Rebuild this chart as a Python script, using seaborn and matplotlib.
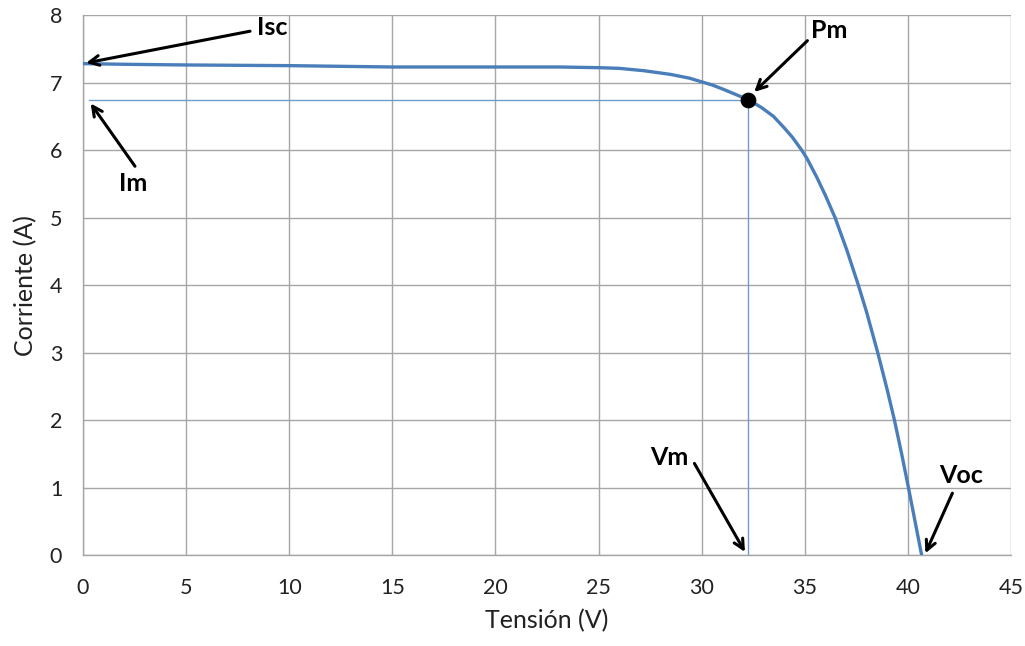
import matplotlib
matplotlib.use("Agg")
import matplotlib.pyplot as plt
import seaborn as sns
import pandas as pd

# I-V curve of the PV module (voltage in V, current in A)
tension = [0.0, 2.0, 5.0, 10.0, 15.0, 20.0, 23.1, 25.0, 26.0, 27.2, 28.5, 29.4,
           30.0, 30.5, 31.05, 31.6, 32.26, 32.9, 33.48, 34.0, 34.4, 34.85, 35.1,
           35.58, 36.0, 36.47, 37.04, 37.6, 38.0, 38.54, 39.0, 39.35, 39.7, 40.03,
           40.35, 40.67]
corriente = [7.28, 7.27, 7.26, 7.25, 7.23, 7.23, 7.23, 7.22, 7.21, 7.175, 7.12, 7.065,
             7.01, 6.965, 6.90, 6.83, 6.745, 6.63, 6.50, 6.33, 6.19, 6.0, 5.88,
             5.60, 5.33, 5.0, 4.52, 4.0, 3.6, 3.0, 2.45, 2.0, 1.5, 1.0,
             0.5, 0.0]

# Maximum power point
vm = 32.26
im = 6.745

x_ticks = [0, 5, 10, 15, 20, 25, 30, 35, 40, 45]
y_ticks = [0, 1, 2, 3, 4, 5, 6, 7, 8]

# Annotation labels: (text, text position, arrow tail, arrow head)
labels = ["Isc", "Im", "Pm", "Vm", "Voc"]
label_xy = [(8.45, 7.81), (2.42, 5.5), (36.2, 7.77), (28.42, 1.45), (42.6, 1.18)]
tail_xy = [(8.1, 7.76), (2.52, 5.76), (35.13, 7.62), (29.65, 1.36), (42.16, 0.92)]
head_xy = [(0.15, 7.29), (0.37, 6.69), (32.55, 6.86), (32.1, 0.05), (40.85, 0.03)]
label_ha = ["left", "center", "center", "center", "center"]

sns.set_style("white")
plt.rcParams["font.family"] = ["Lato", "DejaVu Sans"]

df = pd.DataFrame({"Tensión (V)": tension, "Corriente (A)": corriente})

fig = plt.figure(figsize=(10.25, 6.46), dpi=100)
ax = fig.add_axes([0.081, 0.1404, 0.9053, 0.8364])

grid_c = "#a6a6a6"
ax.set_xlim(0, 45)
ax.set_ylim(0, 8)
ax.set_xticks(x_ticks)
ax.set_yticks(y_ticks)
ax.grid(True, color=grid_c, linewidth=1.0)
ax.set_axisbelow(True)
for s in ["top", "right"]:
    ax.spines[s].set_visible(False)
for s in ["left", "bottom"]:
    ax.spines[s].set_color(grid_c)
    ax.spines[s].set_linewidth(1.0)
ax.tick_params(axis="both", which="both", direction="out", length=6, width=1.0,
               color=grid_c, labelsize=15.5, labelcolor="#222222")
ax.tick_params(axis="y", pad=9)
ax.tick_params(axis="x", pad=10)

# Reference lines to the maximum power point
ax.plot([0.3, vm], [im, im], color="#6f9bd2", linewidth=1.0, zorder=2)
ax.plot([vm, vm], [0, im], color="#6f9bd2", linewidth=1.0, zorder=2)

sns.lineplot(data=df, x="Tensión (V)", y="Corriente (A)", ax=ax, color="#4a7ebb",
             linewidth=2.4, sort=False, zorder=3)
sns.scatterplot(x=[vm], y=[im], ax=ax, color="black", s=110, edgecolor="black",
                zorder=4)

for txt, txy, t0, h0, ha in zip(labels, label_xy, tail_xy, head_xy, label_ha):
    ax.text(txy[0], txy[1], txt, fontsize=18, fontweight="bold", ha=ha,
            va="center", color="black", zorder=6)
    ax.annotate("", xy=h0, xytext=t0,
                arrowprops=dict(arrowstyle="->,head_length=0.7,head_width=0.35",
                                color="black", linewidth=2.2, shrinkA=0, shrinkB=0),
                zorder=5)

ax.set_xlabel("Tensión (V)", fontsize=18, color="#222222", labelpad=8)
ax.set_ylabel("Corriente (A)", fontsize=18, color="#222222", labelpad=9)

fig.savefig("out.png", dpi=100, facecolor="white")
